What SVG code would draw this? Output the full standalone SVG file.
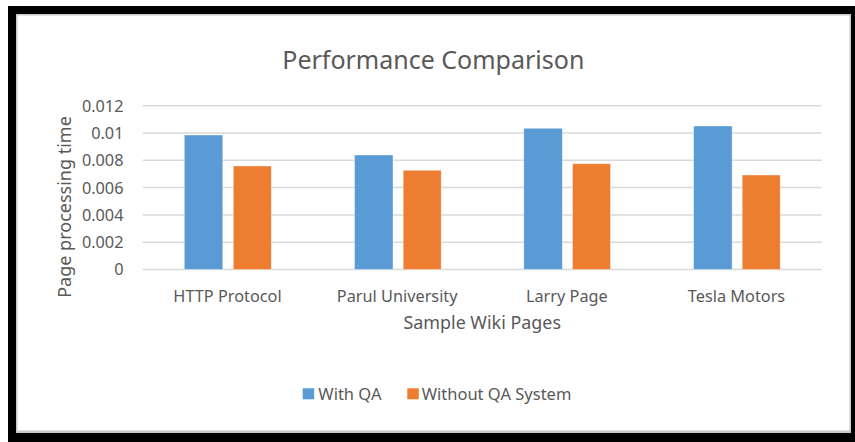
<svg xmlns="http://www.w3.org/2000/svg" width="855" height="442" viewBox="0 0 855 442">
<style>
text{font-family:"Noto Sans","Open Sans","Liberation Sans",sans-serif;fill:#595959}
.grid{stroke:#d9d9d9;stroke-width:1.5}
.blue{fill:#5b9bd5;stroke:#ffffff;stroke-opacity:0.5;stroke-width:0.75}
.orange{fill:#ed7d31;stroke:#ffffff;stroke-opacity:0.5;stroke-width:0.75}
.tick{font-size:16.3px;text-anchor:end}
.cat{font-size:16.3px;text-anchor:middle}
.leg{font-size:16.5px}
</style>
<g id="frame">
<rect x="0" y="0" width="855" height="442" fill="#ffffff"/>
<rect x="8" y="6" width="847" height="436" fill="#000000"/>
<rect x="16" y="14" width="835" height="419" fill="#c9c9c9"/>
<rect x="17.5" y="15.5" width="832" height="415" fill="#ffffff"/>
</g>
<g id="title"><text x="433.3" y="69" font-size="25px" text-anchor="middle">Performance Comparison</text></g>
<g id="gridlines">
<line class="grid" x1="142.7" y1="105.7" x2="821.7" y2="105.7"/>
<line class="grid" x1="142.7" y1="133" x2="821.7" y2="133"/>
<line class="grid" x1="142.7" y1="160.3" x2="821.7" y2="160.3"/>
<line class="grid" x1="142.7" y1="187.6" x2="821.7" y2="187.6"/>
<line class="grid" x1="142.7" y1="214.9" x2="821.7" y2="214.9"/>
<line class="grid" x1="142.7" y1="242.2" x2="821.7" y2="242.2"/>
<line class="grid" x1="142.7" y1="269.5" x2="821.7" y2="269.5"/>
</g>
<g id="y-ticks">
<text class="tick" x="123.5" y="111.6">0.012</text>
<text class="tick" x="123.5" y="138.9">0.01</text>
<text class="tick" x="123.5" y="166.2">0.008</text>
<text class="tick" x="123.5" y="193.5">0.006</text>
<text class="tick" x="123.5" y="220.8">0.004</text>
<text class="tick" x="123.5" y="248.1">0.002</text>
<text class="tick" x="123.5" y="275.4">0</text>
</g>
<g id="y-axis-title"><text transform="translate(70.5,207) rotate(-90)" font-size="18px" text-anchor="middle">Page processing time</text></g>
<g id="bars-with-qa">
<rect class="blue" x="184.3" y="135" width="38.5" height="134.5"/>
<rect class="blue" x="354.5" y="155" width="38.5" height="114.5"/>
<rect class="blue" x="523.8" y="128.3" width="38.5" height="141.2"/>
<rect class="blue" x="693.6" y="126" width="38.5" height="143.5"/>
</g>
<g id="bars-without-qa">
<rect class="orange" x="233.3" y="166" width="38" height="103.5"/>
<rect class="orange" x="403.2" y="170.3" width="38" height="99.2"/>
<rect class="orange" x="572.5" y="163.7" width="38" height="105.8"/>
<rect class="orange" x="742.2" y="175" width="38" height="94.5"/>
</g>
<g id="x-labels">
<text class="cat" x="227.5" y="301.5">HTTP Protocol</text>
<text class="cat" x="397.2" y="301.5">Parul University</text>
<text class="cat" x="566.8" y="301.5">Larry Page</text>
<text class="cat" x="736.5" y="301.5">Tesla Motors</text>
</g>
<g id="x-axis-title"><text x="482.2" y="328.5" font-size="17.9px" text-anchor="middle">Sample Wiki Pages</text></g>
<g id="legend">
<rect x="302.7" y="388.3" width="11.5" height="11" fill="#5b9bd5"/>
<text class="leg" x="318.3" y="400.3">With QA</text>
<rect x="407.3" y="388.3" width="11.5" height="11" fill="#ed7d31"/>
<text class="leg" x="421.7" y="400.3">Without QA System</text>
</g>
</svg>
